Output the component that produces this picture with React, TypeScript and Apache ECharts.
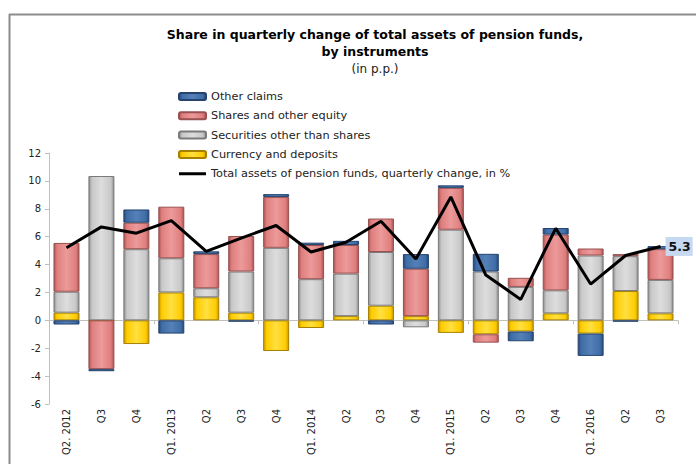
import React, { useEffect, useRef } from "react";
import * as echarts from "echarts";

const categories = ["Q2. 2012", "Q3", "Q4", "Q1. 2013", "Q2", "Q3", "Q4", "Q1. 2014", "Q2", "Q3", "Q4", "Q1. 2015", "Q2", "Q3", "Q4", "Q1. 2016", "Q2", "Q3"];
const currency = [0.55, 0, -1.7, 2.0, 1.65, 0.55, -2.2, -0.55, 0.3, 1.05, 0.3, -0.9, -1.0, -0.8, 0.5, -0.95, 2.1, 0.5];
const securities = [1.5, 10.35, 5.1, 2.45, 0.65, 2.95, 5.2, 2.95, 3.05, 3.85, -0.5, 6.5, 3.5, 2.4, 1.65, 4.65, 2.5, 2.4];
const shares = [3.5, -3.5, 1.9, 3.7, 2.45, 2.55, 3.65, 2.45, 2.05, 2.4, 3.4, 3.0, -0.6, 0.65, 4.0, 0.5, 0.15, 2.2];
const other = [-0.3, -0.15, 0.95, -0.95, 0.2, -0.1, 0.2, 0.17, 0.3, -0.3, 1.05, 0.18, 1.27, -0.7, 0.47, -1.6, -0.1, 0.22];
const total = [5.2, 6.7, 6.25, 7.15, 4.95, 5.9, 6.8, 4.9, 5.6, 7.1, 4.4, 8.85, 3.25, 1.5, 6.6, 2.6, 4.65, 5.3];

const yTicks = { min: -6, max: 12, interval: 2 };

const FONT = "'DejaVu Sans', Verdana, sans-serif";
const LINE_NAME = "Total assets of pension funds, quarterly change, in %";

function bevel(base: string, dark: string, light: string) {
  return new echarts.graphic.LinearGradient(0, 0, 1, 0, [
    { offset: 0, color: dark },
    { offset: 0.12, color: base },
    { offset: 0.5, color: light },
    { offset: 0.88, color: base },
    { offset: 1, color: dark },
  ]);
}

export default function App() {
  const ref = useRef<HTMLDivElement>(null);
  useEffect(() => {
    if (!ref.current) return;
    const chart = echarts.init(ref.current, null, { renderer: "svg" });
    const barSeries = (name: string, data: number[], base: string, dark: string, light: string, border: string) => ({
      name,
      type: "bar",
      stack: "total",
      data,
      barWidth: 26,
      xAxisIndex: 0,
      itemStyle: { color: bevel(base, dark, light), borderColor: border, borderWidth: 1 },
    });
    chart.setOption({
      animation: false,
      backgroundColor: "#ffffff",
      textStyle: { fontFamily: FONT },
      title: {
        text: "Share in quarterly change of total assets of pension funds,\nby instruments",
        subtext: "(in p.p.)",
        left: 370,
        top: 21,
        textAlign: "center",
        itemGap: 1,
        textStyle: { fontFamily: FONT, fontSize: 12.5, fontWeight: "bold", color: "#000", lineHeight: 17 },
        subtextStyle: { fontFamily: FONT, fontSize: 12, color: "#222", lineHeight: 16 },
      },
      legend: {
        orient: "vertical",
        left: 173,
        top: 86,
        itemWidth: 27,
        itemHeight: 7,
        itemGap: 8.3,
        data: [
          { name: "Other claims" },
          { name: "Shares and other equity" },
          { name: "Securities other than shares" },
          { name: "Currency and deposits" },
          { name: LINE_NAME, icon: "path://M0,0L0.01,0L0.01,0.01ZM0,2L27,2L27,5L0,5ZM0,7L0.01,7L0.01,6.99Z" },
        ],
        textStyle: { fontFamily: FONT, fontSize: 11.3, color: "#222", padding: [0, 0, 0, 0] },
      },
      grid: { left: 49, right: 18, top: 153, bottom: 60, containLabel: false },
      xAxis: [
        {
          type: "category",
          data: categories,
          axisLine: { onZero: true, lineStyle: { color: "#c0c0c0", width: 1 } },
          axisTick: { show: true, length: 4, lineStyle: { color: "#c0c0c0" } },
          axisLabel: { show: false },
        },
        {
          type: "category",
          data: categories,
          position: "bottom",
          axisLine: { show: false, onZero: false },
          axisTick: { show: false },
          axisLabel: { rotate: 90, fontSize: 10, color: "#222", fontFamily: FONT, margin: 5, interval: 0 },
        },
      ],
      yAxis: {
        type: "value",
        min: yTicks.min,
        max: yTicks.max,
        interval: yTicks.interval,
        splitLine: { show: false },
        axisLine: { show: true, lineStyle: { color: "#c0c0c0" } },
        axisTick: { show: true, length: 4, lineStyle: { color: "#c0c0c0" } },
        axisLabel: { fontSize: 10, color: "#222", fontFamily: FONT, margin: 8 },
      },
      series: [
        barSeries("Currency and deposits", currency, "#ffcc00", "#c79a00", "#ffe040", "#a88000"),
        barSeries("Securities other than shares", securities, "#c8c8c8", "#8e8e8e", "#dddddd", "#7a7a7a"),
        barSeries("Shares and other equity", shares, "#e07e7e", "#a85656", "#ec9a9a", "#985050"),
        barSeries("Other claims", other, "#3f6da6", "#27497a", "#5580b8", "#25436e"),
        {
          name: LINE_NAME,
          type: "line",
          data: total,
          xAxisIndex: 0,
          symbol: "none",
          lineStyle: { color: "#000", width: 3 },
          itemStyle: { color: "#000" },
          endLabel: {
            show: true,
            distance: 5,
            formatter: (p: any) => String(p.value),
            fontFamily: FONT,
            fontSize: 12.5,
            fontWeight: "bold",
            color: "#111",
            backgroundColor: "#c6d9f1",
            padding: [3, 2, 3, 3],
          },
          z: 5,
        },
      ],
      graphic: [
        { type: "line", shape: { x1: 9, y1: 14.5, x2: 696, y2: 14.5 }, style: { stroke: "#8c8c8c", lineWidth: 2 } },
        { type: "line", shape: { x1: 9.5, y1: 14, x2: 9.5, y2: 464 }, style: { stroke: "#8c8c8c", lineWidth: 2 } },
      ],
    });
    return () => chart.dispose();
  }, []);
  return <div ref={ref} style={{ position: "fixed", left: 0, top: 0, width: 696, height: 464 }} />;
}
